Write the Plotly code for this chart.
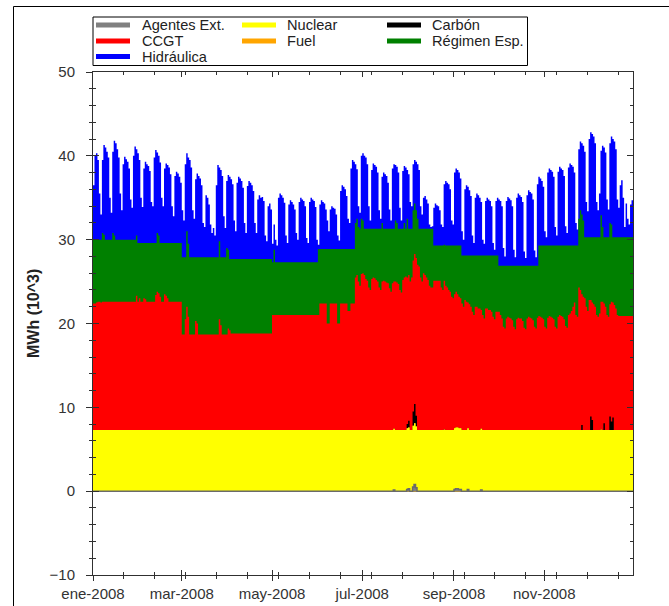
import itertools
import pandas as pd
import numpy as np
import plotly.graph_objects as go

# ---------------------------------------------------------------------------
# Daily generation by technology, Spain 2008 (MWh x 10^3, daily peak hour)
# ---------------------------------------------------------------------------
dias = pd.date_range("2008-01-01", "2008-12-31", freq="D")

# Nuclear: monthly level (Jan..Dec)
nuclear_mes = [7.3, 7.3, 7.3, 7.3, 7.3, 7.3, 7.3, 7.3, 7.3, 7.3, 7.3, 7.3]

# CCGT, one list per month
ccgt_mes = [
    [15.1, 15.1, 15.2, 15.3, 15.3, 15.2, 15.3, 15.3, 15.3, 15.3,
     15.3, 15.3, 15.3, 15.3, 15.3, 15.3, 15.3, 15.3, 15.3, 15.3,
     15.3, 15.3, 15.3, 15.3, 15.3, 15.3, 15.3, 15.3, 15.3, 16.0, 15.3],
    [15.7, 15.3, 15.3, 15.7, 15.6, 15.3, 15.3, 15.3, 15.3, 15.3,
     15.3, 16.1, 16.5, 16.3, 15.9, 15.3, 15.3, 16.2, 16.0, 15.7,
     15.3, 15.3, 15.3, 15.3, 15.3, 15.3, 15.3, 15.3, 15.3],
    [11.4, 11.4, 13.2, 14.7, 13.5, 11.4, 11.4, 11.4, 11.4, 13.0,
     12.7, 11.4, 11.4, 11.4, 11.4, 11.4, 11.4, 11.4, 11.4, 11.4,
     11.4, 11.4, 11.4, 11.4, 11.4, 13.2, 12.5, 11.4, 11.4, 11.4, 11.4],
    [12.1, 11.9, 11.5, 11.5, 11.5, 11.5, 11.5, 11.5, 11.5, 11.5,
     11.5, 11.5, 11.5, 11.5, 11.5, 11.5, 11.5, 11.5, 11.5, 11.5,
     11.5, 11.5, 11.5, 11.5, 11.5, 11.5, 11.5, 11.5, 11.5, 11.5],
    [13.7, 13.7, 13.7, 13.7, 13.7, 13.7, 13.7, 13.7, 13.7, 13.7,
     13.7, 13.7, 13.7, 13.7, 13.7, 13.7, 13.7, 13.7, 13.7, 13.7,
     13.7, 13.7, 13.7, 13.7, 13.7, 13.7, 13.7, 13.7, 13.7, 13.7, 13.7],
    [13.7, 15.1, 15.1, 15.1, 15.1, 15.1, 12.7, 12.7, 15.1, 15.1,
     15.1, 15.1, 15.1, 12.7, 12.7, 15.1, 15.1, 15.1, 15.1, 15.1,
     14.2, 14.2, 15.1, 15.1, 15.1, 18.2, 18.5, 17.7, 17.2, 18.6],
    [18.7, 18.5, 18.0, 17.8, 17.0, 16.7, 18.0, 18.2, 18.1, 17.9,
     17.7, 17.0, 16.7, 17.7, 17.8, 17.7, 17.6, 17.5, 16.9, 16.5,
     17.5, 17.55, 17.7, 17.6, 17.4, 16.7, 16.4, 17.9, 18.2, 18.3, 17.5],
    [17.4, 17.7, 18.2, 18.0, 17.9, 18.8, 19.7, 19.5, 18.2, 17.7,
     18.7, 18.5, 18.2, 17.9, 17.2, 17.0, 17.0, 17.8, 17.8, 17.8,
     17.8, 17.8, 17.0, 16.7, 17.7, 17.2, 17.0, 16.7, 16.5, 15.9, 15.7],
    [16.0, 16.2, 15.9, 15.7, 15.5, 15.1, 14.7, 15.5, 15.3, 15.0,
     15.0, 14.7, 14.1, 13.7, 14.7, 14.7, 14.5, 14.5, 14.15, 13.7,
     13.3, 14.5, 14.5, 14.3, 14.3, 14.1, 13.5, 13.2, 14.1, 14.1],
    [14.1, 13.7, 13.3, 12.3, 12.1, 13.3, 13.5, 13.4, 13.3, 13.1,
     12.3, 12.0, 13.2, 13.4, 13.3, 13.3, 13.0, 12.2, 12.0, 13.3,
     13.5, 13.4, 13.3, 13.1, 12.3, 12.1, 13.4, 13.6, 13.5, 13.4, 13.2],
    [12.3, 12.1, 13.4, 13.6, 13.5, 13.4, 13.2, 12.3, 12.1, 13.5,
     13.7, 13.6, 13.5, 13.2, 12.4, 12.2, 13.7, 13.9, 14.2, 14.7,
     15.2, 13.7, 13.5, 17.0, 16.7, 15.6, 15.9, 15.7, 14.7, 14.2],
    [15.5, 13.9, 14.0, 15.0, 14.7, 13.7, 13.5, 13.9, 15.2, 15.3,
     14.3, 14.7, 13.7, 13.5, 13.4, 14.3, 13.7, 14.9, 14.5, 13.7,
     13.6, 13.6, 13.6, 13.6, 13.6, 13.6, 13.6, 13.6, 13.6, 13.6, 13.6],
]

# Régimen especial, one list per month
regimen_mes = [
    [7.6, 7.6, 7.5, 7.4, 7.4, 7.5, 8.2, 8.0, 7.4, 7.4,
     7.4, 7.4, 7.4, 8.2, 7.9, 7.4, 7.4, 7.4, 7.4, 7.4,
     7.4, 7.4, 7.4, 7.4, 7.4, 7.4, 7.4, 7.4, 7.4, 7.2, 7.0],
    [6.6, 7.0, 7.0, 6.6, 6.7, 7.0, 7.0, 7.0, 7.0, 7.0,
     7.0, 6.2, 7.0, 6.9, 6.4, 7.0, 7.0, 6.1, 6.3, 6.6,
     7.0, 7.0, 7.0, 7.0, 7.0, 7.0, 7.0, 7.0, 7.0],
    [9.2, 9.2, 7.4, 9.0, 8.7, 9.2, 9.2, 9.2, 9.2, 7.6,
     7.9, 9.2, 9.2, 9.2, 9.2, 9.2, 9.2, 9.2, 9.2, 9.2,
     9.2, 9.2, 9.2, 9.2, 9.2, 9.3, 8.1, 9.2, 9.2, 9.2, 10.3],
    [9.4, 8.5, 8.9, 8.9, 8.9, 8.9, 8.9, 8.9, 8.9, 8.9,
     8.9, 8.9, 8.9, 8.9, 8.9, 8.9, 8.9, 8.9, 8.9, 8.9,
     8.9, 8.9, 8.9, 8.9, 8.9, 8.9, 8.9, 8.9, 8.9, 8.9],
    [6.3, 7.8, 6.3, 6.3, 6.3, 6.3, 6.3, 6.3, 6.3, 6.3,
     6.3, 6.3, 6.3, 6.3, 6.3, 6.3, 6.3, 6.3, 6.3, 6.3,
     6.3, 6.3, 6.3, 6.3, 6.3, 6.3, 6.3, 6.3, 6.3, 6.3, 6.3],
    [7.9, 6.5, 6.5, 6.5, 6.5, 6.5, 8.9, 8.9, 6.5, 6.5,
     6.5, 6.5, 6.5, 8.9, 8.9, 6.5, 6.5, 6.5, 6.5, 6.5,
     7.4, 7.4, 6.5, 6.5, 6.5, 6.5, 6.7, 6.5, 6.8, 6.6],
    [6.3, 5.5, 6.0, 6.2, 7.0, 7.3, 6.0, 5.8, 5.9, 6.1,
     6.3, 7.0, 7.3, 7.0, 6.2, 6.3, 6.4, 6.5, 7.1, 7.5,
     6.5, 6.3, 7.3, 7.1, 6.6, 7.3, 7.6, 6.1, 6.5, 5.7, 7.0],
    [5.5, 6.3, 5.8, 6.0, 6.0, 5.7, 5.5, 4.5, 5.8, 6.3,
     5.3, 5.5, 5.8, 6.1, 6.8, 7.0, 7.0, 4.2, 4.2, 4.2,
     4.2, 4.2, 5.0, 5.3, 4.3, 4.8, 5.0, 5.3, 5.5, 6.1, 6.3],
    [5.8, 5.5, 5.8, 6.1, 6.3, 5.7, 6.1, 5.3, 5.5, 5.6,
     5.8, 6.1, 6.7, 7.1, 6.1, 6.1, 6.3, 6.3, 6.5, 7.1,
     7.5, 6.3, 6.3, 6.5, 6.5, 6.7, 7.3, 7.6, 6.7, 6.7],
    [5.5, 5.9, 6.3, 7.3, 7.5, 6.3, 6.1, 6.2, 6.3, 6.5,
     7.3, 7.6, 6.4, 6.2, 6.3, 6.3, 6.6, 7.4, 7.6, 6.3,
     6.1, 6.2, 6.3, 6.5, 7.3, 7.5, 6.2, 8.4, 8.5, 8.6, 8.8],
    [9.7, 9.9, 8.6, 8.4, 8.5, 8.6, 8.8, 9.7, 9.9, 8.5,
     8.3, 8.4, 8.5, 8.8, 9.6, 9.8, 8.3, 8.1, 7.8, 7.3,
     6.8, 8.3, 8.5, 8.2, 9.5, 9.5, 9.1, 7.3, 8.3, 8.8],
    [7.5, 7.5, 7.8, 8.0, 8.3, 9.3, 9.5, 9.1, 10.3, 8.9,
     7.9, 8.3, 9.3, 9.5, 9.7, 9.2, 7.8, 8.1, 8.5, 9.3,
     9.4, 9.4, 9.4, 9.4, 9.4, 9.4, 9.4, 9.4, 9.4, 9.4, 9.4],
]

# Hidráulica, one list per month
hidraulica_mes = [
    [6.5, 10.0, 10.3, 9.5, 5.5, 3.0, 8.7, 10.7, 11.0, 10.5,
     9.8, 5.0, 3.2, 9.7, 11.3, 11.5, 10.8, 9.8, 5.5, 3.5,
     9.0, 9.9, 9.6, 9.3, 8.5, 4.8, 3.8, 10.0, 11.1, 10.3, 10.7],
    [9.9, 5.4, 4.3, 8.9, 9.7, 9.4, 9.2, 8.6, 4.9, 4.4,
     10.2, 11.1, 9.6, 9.5, 9.6, 5.4, 4.4, 8.9, 9.5, 9.3,
     9.0, 8.2, 4.4, 3.2, 8.0, 8.5, 8.3, 7.9, 7.2],
    [5.6, 4.4, 11.1, 9.3, 10.3, 11.6, 10.7, 5.6, 4.6, 9.3,
     10.0, 9.7, 9.4, 8.6, 4.1, 3.6, 7.4, 7.1, 6.3, 3.9,
     2.9, 3.5, 2.6, 8.6, 11.0, 8.8, 10.4, 9.7, 4.9, 3.5, 8.0],
    [8.9, 9.8, 9.5, 8.9, 4.6, 3.3, 9.1, 9.8, 9.6, 9.3,
     8.5, 4.3, 3.1, 8.7, 9.3, 9.1, 8.8, 8.1, 4.3, 3.1,
     7.1, 7.6, 7.3, 7.4, 6.9, 2.8, 2.1, 6.3, 6.6, 5.9],
    [2.2, 3.0, 2.7, 2.0, 7.7, 8.2, 8.0, 7.7, 7.1, 3.2,
     2.3, 6.9, 7.4, 7.2, 6.9, 6.3, 3.5, 2.7, 7.2, 7.7,
     7.5, 7.3, 6.7, 2.9, 2.3, 7.2, 7.7, 7.5, 7.3, 6.6, 2.7],
    [0.5, 5.3, 5.8, 5.6, 5.4, 4.7, 3.4, 2.1, 4.7, 5.1,
     4.9, 4.8, 4.1, 1.6, 1.0, 6.9, 7.6, 7.4, 7.1, 6.3,
     3.6, 3.1, 9.6, 10.6, 10.4, 7.0, 5.9, 2.5, 1.9, 7.5],
    [8.0, 8.7, 8.5, 7.7, 2.7, 1.0, 7.0, 7.8, 7.6, 7.4,
     6.7, 2.2, 1.2, 5.5, 6.7, 6.5, 6.3, 5.5, 2.3, 1.0,
     7.2, 7.7, 6.6, 6.7, 6.7, 2.5, 1.0, 6.9, 6.8, 7.3, 5.8],
    [6.5, 3.2, 2.7, 5.5, 5.2, 5.8, 6.5, 7.0, 2.7, 1.7,
     3.7, 3.9, 3.5, 3.0, 0.5, 0.2, 0.3, 4.5, 5.0, 4.8,
     4.7, 4.2, 2.5, 2.2, 7.2, 7.7, 7.5, 7.3, 6.7, 3.0, 2.5],
    [8.7, 9.2, 9.0, 8.7, 8.0, 2.9, 1.9, 7.9, 8.4, 8.2,
     7.8, 7.1, 2.4, 1.5, 6.9, 7.4, 7.2, 6.9, 6.4, 1.9,
     1.4, 6.5, 6.9, 6.7, 6.5, 5.9, 1.5, 0.7, 6.5, 6.9],
    [7.9, 7.7, 7.1, 2.1, 1.1, 7.7, 8.2, 8.0, 7.8, 7.1,
     1.9, 1.0, 8.1, 8.6, 8.4, 8.2, 7.6, 1.7, 0.9, 8.4,
     9.0, 8.8, 8.6, 7.9, 1.8, 1.0, 9.7, 8.2, 8.0, 7.7, 7.0],
    [1.7, 1.0, 8.7, 9.2, 9.0, 8.8, 8.2, 2.2, 1.2, 8.8,
     9.4, 9.2, 9.0, 8.3, 2.3, 1.5, 9.3, 9.8, 9.6, 9.4,
     8.7, 2.7, 1.9, 8.3, 8.2, 8.5, 8.9, 10.2, 4.2, 3.1],
    [11.7, 12.5, 12.3, 12.0, 11.2, 4.2, 3.2, 5.2, 7.7, 9.7,
     10.7, 10.1, 4.5, 3.3, 9.5, 10.5, 11.7, 11.4, 10.5, 4.5,
     3.5, 6.2, 6.8, 4.7, 1.2, 4.0, 2.2, 1.5, 3.9, 4.4, 3.2],
]

# Technologies that only appear on a few days
agentes_ext = {"2008-07-22": 0.15, "2008-07-31": 0.2, "2008-08-01": 0.3,
               "2008-08-04": 0.5, "2008-08-05": 0.8, "2008-08-06": 0.4,
               "2008-09-01": 0.2, "2008-09-02": 0.3, "2008-09-03": 0.3,
               "2008-09-04": 0.2, "2008-09-05": 0.2, "2008-09-10": 0.2,
               "2008-09-19": 0.15}
carbon = {"2008-07-31": 0.5, "2008-08-01": 0.8, "2008-08-04": 1.7,
          "2008-08-05": 2.3, "2008-08-06": 1.3, "2008-11-26": 0.6,
          "2008-12-02": 1.6, "2008-12-03": 1.2, "2008-12-11": 0.8,
          "2008-12-15": 1.6, "2008-12-16": 1.0, "2008-12-17": 1.5}
fuel = {"2008-08-25": 0.1, "2008-12-09": 0.1}

# Axis labels
meses_ticks = ["2008-01-01", "2008-03-01", "2008-05-01",
               "2008-07-01", "2008-09-01", "2008-11-01"]
meses_texto = ["ene-2008", "mar-2008", "may-2008",
               "jul-2008", "sep-2008", "nov-2008"]

# ---------------------------------------------------------------------------
def aplanar(por_mes):
    serie = np.array(list(itertools.chain.from_iterable(por_mes)), dtype=float)
    assert len(serie) == len(dias), len(serie)
    return serie


def dispersa(valores):
    serie = pd.Series(0.0, index=dias)
    for fecha, v in valores.items():
        serie[pd.Timestamp(fecha)] = v
    return serie.to_numpy()


nuclear = np.array([nuclear_mes[d.month - 1] for d in dias])
ccgt = aplanar(ccgt_mes)
regimen = aplanar(regimen_mes)
hidraulica = aplanar(hidraulica_mes)
agentes = dispersa(agentes_ext)
carbon_d = dispersa(carbon)
fuel_d = dispersa(fuel)

# stacking order, bottom to top
capas = [
    ("Agentes Ext.", agentes, "#808080"),
    ("Nuclear", nuclear, "#FFFF00"),
    ("Fuel", fuel_d, "#FFA500"),
    ("Carbón", carbon_d, "#000000"),
    ("CCGT", ccgt, "#FF0000"),
    ("Régimen Esp.", regimen, "#008000"),
    ("Hidráulica", hidraulica, "#0000FF"),
]
acumulado = np.cumsum(np.vstack([c[1] for c in capas]), axis=0)

fig = go.Figure()

# each layer filled from zero, top layer first so lower layers paint over it
for i in range(len(capas) - 1, -1, -1):
    nombre, _, color = capas[i]
    es_base = i == 0
    fig.add_trace(go.Scatter(
        x=dias, y=acumulado[i], name=nombre,
        mode="lines", fill="tozeroy", fillcolor=color,
        line=dict(shape="hv", width=1.5 if es_base else 0,
                  color="#6a6a6a" if es_base else color),
        showlegend=False, hoverinfo="x+y+name",
    ))

# carrier trace for the overlay axes that draw the inward ticks
fig.add_trace(go.Scatter(x=[dias[0]], y=[0], xaxis="x2", yaxis="y2",
                         mode="markers", marker=dict(size=1, opacity=0),
                         showlegend=False, hoverinfo="skip"))

eje_color = "#303030"
fuente = "Liberation Sans"
x_rango = [dias[0], dias[-1]]
minor_x = [dias[0] + pd.Timedelta(hours=501.6 * k) for k in range(18)]

# plot area in pixels: x 93..633, y 72..575
def px_x(px):
    return (px - 93) / 540


def px_y(py):
    return (575 - py) / 503


# legend box: three columns, row-major
orden_leyenda = ["Agentes Ext.", "Nuclear", "Carbón", "CCGT", "Fuel",
                 "Régimen Esp.", "Hidráulica"]
colores = {c[0]: c[2] for c in capas}
col_muestra = [96, 242, 387]
col_texto = [140, 285, 430]
filas = [25, 41, 56.5]

formas = [
    dict(type="rect", xref="paper", yref="paper", layer="above",
         x0=px_x(93), x1=px_x(527.5), y0=px_y(65.5), y1=px_y(17),
         line=dict(color="black", width=1), fillcolor="white"),
    dict(type="line", xref="paper", yref="paper", layer="above",
         x0=px_x(13.5), x1=px_x(13.5), y0=px_y(610), y1=px_y(6.5),
         line=dict(color="black", width=1)),
    dict(type="line", xref="paper", yref="paper", layer="above",
         x0=px_x(13.5), x1=px_x(670), y0=px_y(6.5), y1=px_y(6.5),
         line=dict(color="black", width=1)),
]
notas = [dict(
    text="<b>MWh (10^3)</b>", textangle=-90, showarrow=False,
    xref="paper", yref="paper", x=px_x(33), y=px_y(314),
    xanchor="center", yanchor="middle",
    font=dict(size=16, family=fuente, color="#222222"),
)]
for k, nombre in enumerate(orden_leyenda):
    fila, col = divmod(k, 3)
    yy = px_y(filas[fila])
    formas.append(dict(
        type="line", xref="paper", yref="paper", layer="above",
        x0=px_x(col_muestra[col]), x1=px_x(col_muestra[col] + 34),
        y0=yy, y1=yy, line=dict(color=colores[nombre], width=5)))
    notas.append(dict(
        text=nombre, showarrow=False, xref="paper", yref="paper",
        x=px_x(col_texto[col]), y=yy, xanchor="left", yanchor="middle",
        font=dict(size=14.6, family=fuente, color="#222222")))

fig.update_layout(
    width=669, height=606,
    margin=dict(l=93, r=36, t=72, b=31),
    paper_bgcolor="white", plot_bgcolor="white",
    font=dict(family=fuente, color="#333333"),
    showlegend=False,
    xaxis=dict(
        type="date", range=x_rango, showgrid=False, zeroline=False,
        automargin=False,
        tickmode="array", tickvals=meses_ticks, ticktext=meses_texto,
        ticks="outside", ticklen=5, tickwidth=1, tickcolor=eje_color,
        showline=True, linecolor=eje_color, linewidth=1, mirror=False,
        tickfont=dict(size=15, family=fuente, color="#333333"),
        minor=dict(tickmode="array", tickvals=minor_x, ticks="outside",
                   ticklen=3, tickcolor=eje_color, showgrid=False),
    ),
    xaxis2=dict(
        type="date", range=x_rango, overlaying="x", showgrid=False,
        zeroline=False, automargin=False,
        tickmode="array", tickvals=meses_ticks,
        ticks="inside", ticklen=5, tickcolor=eje_color, showticklabels=False,
        showline=True, linecolor=eje_color, linewidth=1, mirror="ticks",
        minor=dict(tickmode="array", tickvals=minor_x, ticks="inside",
                   ticklen=3, tickcolor=eje_color, showgrid=False),
    ),
    yaxis=dict(
        range=[-10, 50], tickmode="linear", tick0=-10, dtick=10,
        showgrid=False, zeroline=False, automargin=False,
        ticks="outside", ticklen=6, tickwidth=1, tickcolor=eje_color,
        showline=True, linecolor=eje_color, linewidth=1, mirror=False,
        tickfont=dict(size=15, family=fuente, color="#333333"),
        ticklabelstandoff=8,
        minor=dict(dtick=2, ticks="outside", ticklen=3,
                   tickcolor=eje_color, showgrid=False),
    ),
    yaxis2=dict(
        range=[-10, 50], overlaying="y", side="left", tickmode="linear",
        tick0=-10, dtick=10, showgrid=False, zeroline=False,
        automargin=False,
        ticks="inside", ticklen=6, tickcolor=eje_color, showticklabels=False,
        showline=True, linecolor=eje_color, linewidth=1, mirror="ticks",
        minor=dict(dtick=2, ticks="inside", ticklen=3,
                   tickcolor=eje_color, showgrid=False),
    ),
    annotations=notas,
    shapes=formas,
)

fig.write_html("out.html")
